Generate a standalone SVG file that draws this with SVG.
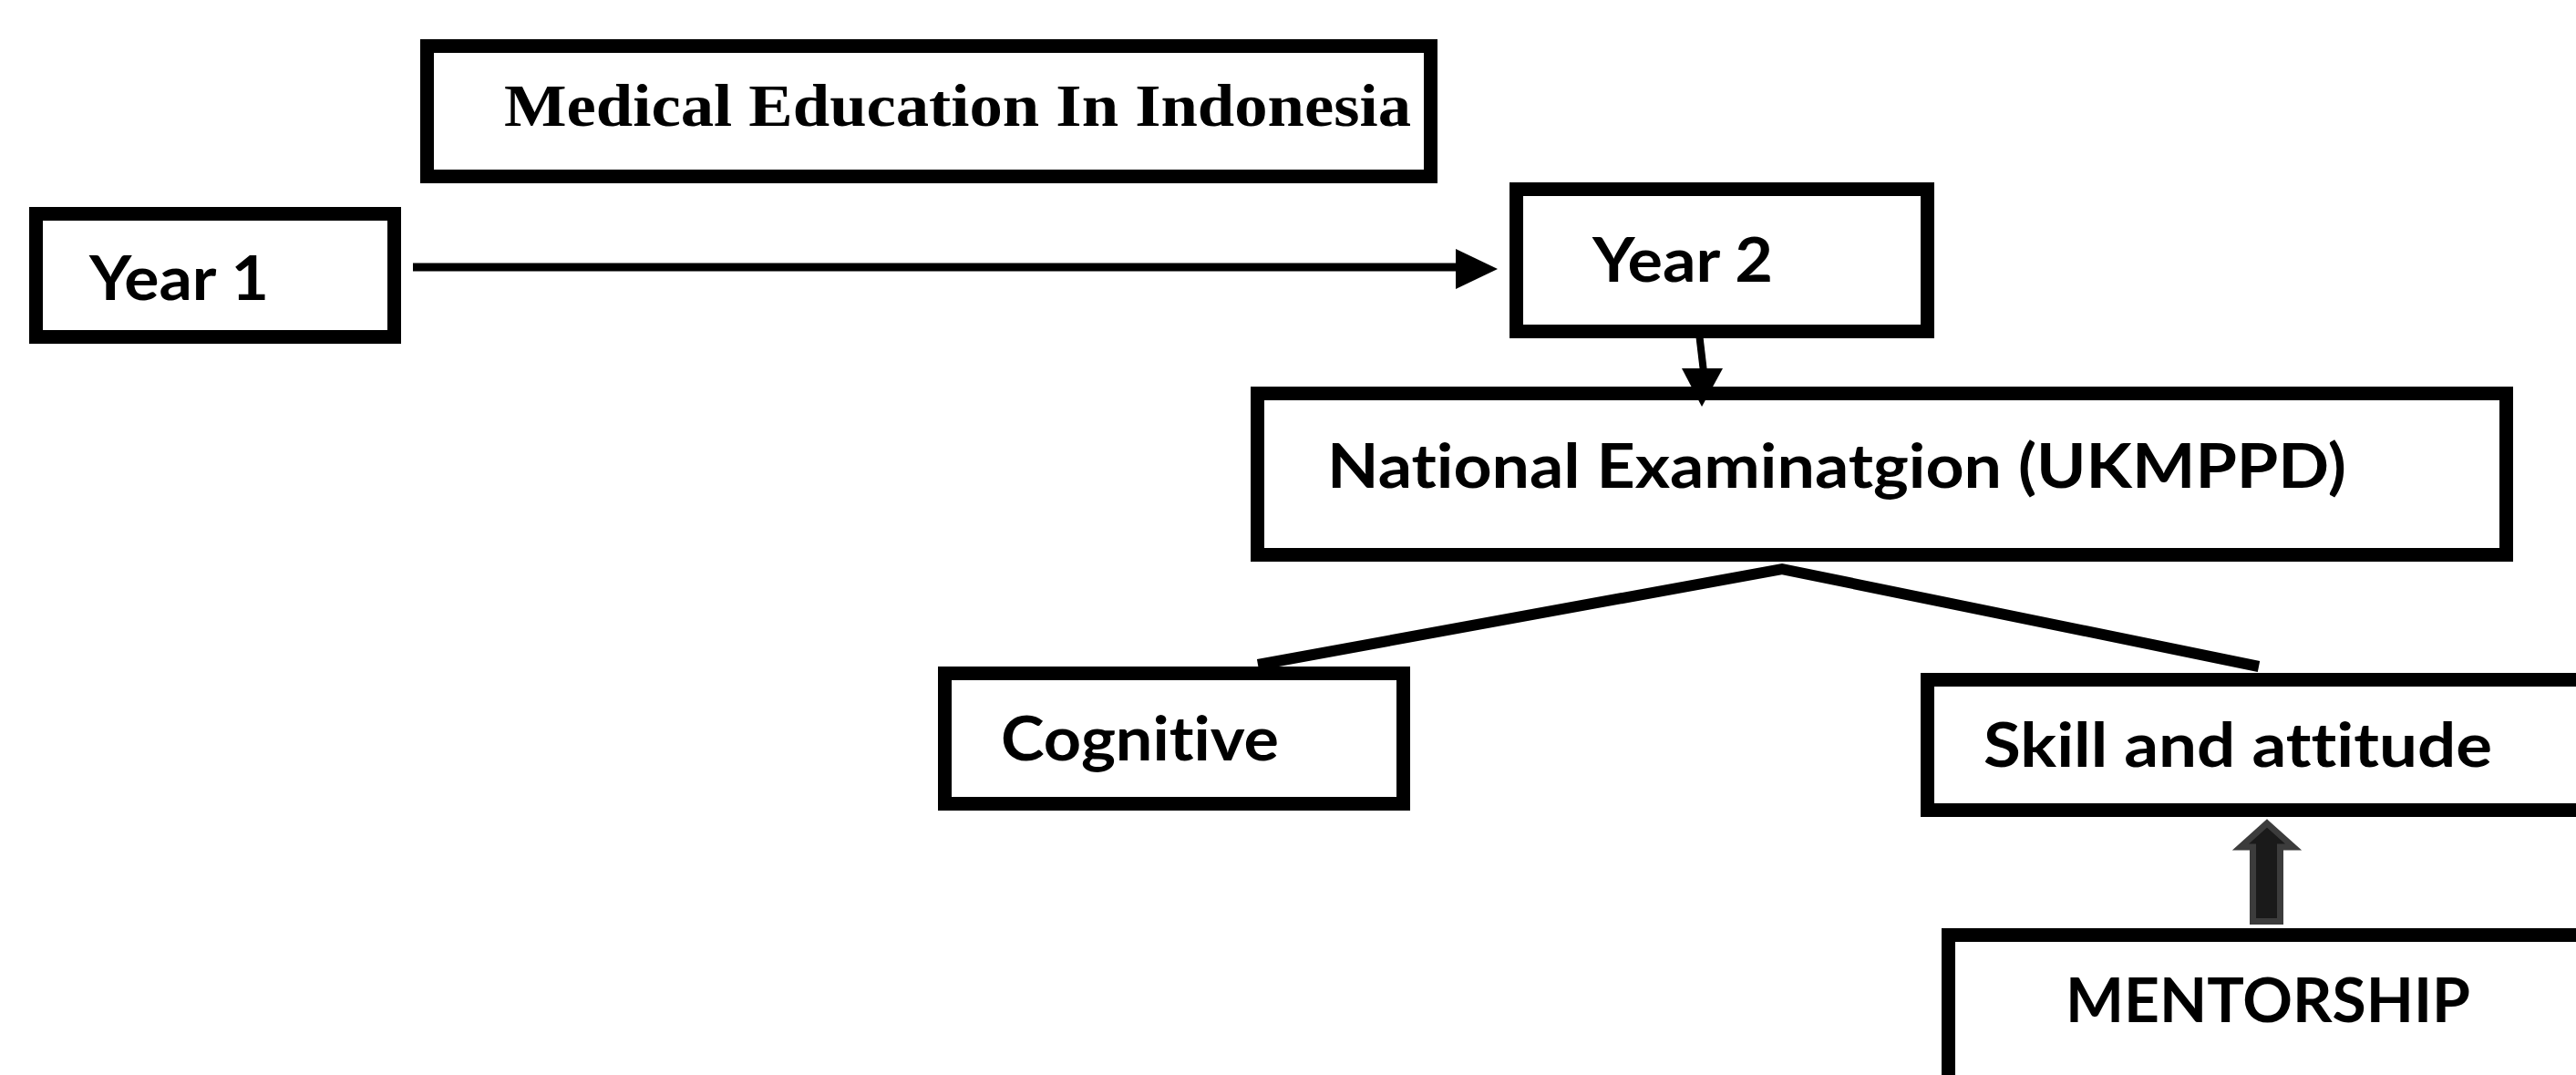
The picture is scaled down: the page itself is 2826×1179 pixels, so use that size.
<svg xmlns="http://www.w3.org/2000/svg" width="2826" height="1179" viewBox="0 0 2826 1179">
<style>
.box{fill:#fff;stroke:#000;stroke-width:15}
.lbl{font-family:Lato,"Open Sans","Liberation Sans",sans-serif;font-weight:bold;font-size:67px;fill:#000;font-variant-ligatures:none;font-feature-settings:"liga" 0,"clig" 0,"dlig" 0}
.ttl{font-family:"Liberation Serif","Times New Roman",serif;font-weight:bold;font-size:66px;fill:#000}
.ln{fill:none;stroke:#000;stroke-linecap:butt}
.head{fill:#000}
</style>
<rect x="0" y="0" width="2826" height="1179" fill="#fff"/>
<g id="title">
<rect class="box" x="468.5" y="50.5" width="1101" height="143"/>
<text class="ttl" x="553" y="138" textLength="995" lengthAdjust="spacingAndGlyphs">Medical Education In Indonesia</text>
</g>
<g id="year1">
<rect class="box" x="39.5" y="234.5" width="393" height="135"/>
<text class="lbl" x="98" y="329" textLength="197" lengthAdjust="spacingAndGlyphs">Year 1</text>
</g>
<g id="year2">
<rect class="box" x="1663.5" y="207.5" width="451" height="156"/>
<text class="lbl" x="1747" y="309" textLength="198" lengthAdjust="spacingAndGlyphs">Year 2</text>
</g>
<g id="national">
<rect class="box" x="1379.5" y="431.5" width="1370" height="177"/>
<text class="lbl" x="1456" y="535" textLength="1118" lengthAdjust="spacingAndGlyphs">National Examinatgion (UKMPPD)</text>
</g>
<g id="cognitive">
<rect class="box" x="1036.5" y="738.5" width="503" height="143"/>
<text class="lbl" x="1098" y="834" textLength="305" lengthAdjust="spacingAndGlyphs">Cognitive</text>
</g>
<g id="skill">
<rect class="box" x="2114.5" y="745.5" width="800" height="143"/>
<text class="lbl" x="2176" y="841" textLength="558" lengthAdjust="spacingAndGlyphs">Skill and attitude</text>
</g>
<g id="mentorship">
<rect class="box" x="2137.5" y="1025.5" width="800" height="300"/>
<text class="lbl" x="2266" y="1121" textLength="444" lengthAdjust="spacingAndGlyphs">MENTORSHIP</text>
</g>
<g id="connectors">
<path class="ln" stroke-width="9" d="M453,293 L1600,293"/>
<polygon class="head" points="1597,273 1643,295 1597,317"/>
<path class="ln" stroke-width="8" d="M1863,357 L1869,408"/>
<polygon class="head" points="1845,404 1890,404 1867,446"/>
<path class="ln" stroke-width="12" stroke-linejoin="miter" d="M1380,729 L1955,624 L2478,731"/>
<polygon points="2487,903 2516,929 2501.5,929 2501.5,1010.5 2471.5,1010.5 2471.5,929 2458,929" fill="#1a1a1a" stroke="#3c3c3c" stroke-width="7" stroke-linejoin="miter"/>
</g>
</svg>
